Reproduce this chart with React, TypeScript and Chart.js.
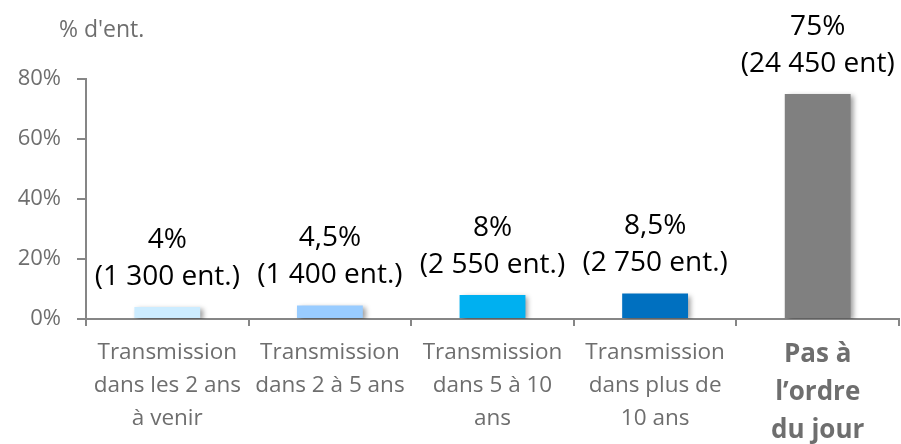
import React, { useEffect, useRef } from "react";
import { Chart, registerables } from "chart.js";

Chart.register(...registerables);

const categories: string[][] = [
  ["Transmission", "dans les 2 ans", "à venir"],
  ["Transmission", "dans 2 à 5 ans"],
  ["Transmission", "dans 5 à 10", "ans"],
  ["Transmission", "dans plus de", "10 ans"],
  ["Pas à", "l’ordre", "du jour"],
];
const values: number[] = [4, 4.5, 8, 8.5, 75];
const pctLabels: string[] = ["4%", "4,5%", "8%", "8,5%", "75%"];
const countLabels: string[] = ["(1 300 ent.)", "(1 400 ent.)", "(2 550 ent.)", "(2 750 ent.)", "(24 450 ent)"];
const barColors: string[] = ["#CCECFF", "#99CCFF", "#00B0F0", "#0070C0", "#808080"];
const yTicks: number[] = [0, 20, 40, 60, 80];
const yTitle = "% d'ent.";

const FONT = "'Open Sans', sans-serif";
const GRAY = "#6e6e6e";
const AXIS = "#868686";

const shadowPlugin = {
  id: "barShadow",
  beforeDatasetsDraw(chart: any) {
    const ctx = chart.ctx;
    ctx.save();
    ctx.shadowColor = "rgba(0,0,0,0.38)";
    ctx.shadowBlur = 5;
    ctx.shadowOffsetX = 3;
    ctx.shadowOffsetY = 2;
  },
  afterDatasetsDraw(chart: any) {
    chart.ctx.restore();
  },
};

const labelPlugin = {
  id: "barLabels",
  afterDraw(chart: any) {
    const ctx = chart.ctx;
    const meta = chart.getDatasetMeta(0);
    ctx.save();
    ctx.fillStyle = "#000000";
    ctx.font = `28px ${FONT}`;
    ctx.textAlign = "center";
    ctx.textBaseline = "middle";
    meta.data.forEach((bar: any, i: number) => {
      ctx.fillText(countLabels[i], bar.x, bar.y - 30);
      ctx.fillText(pctLabels[i], bar.x, bar.y - 67);
    });
    // axis title
    ctx.fillStyle = GRAY;
    ctx.font = `23px ${FONT}`;
    ctx.textAlign = "left";
    ctx.fillText(yTitle, 59, 30);
    ctx.restore();
  },
};

export default function App() {
  const ref = useRef<HTMLCanvasElement>(null);
  useEffect(() => {
    if (!ref.current) return;
    const chart = new Chart(ref.current, {
      type: "bar",
      data: {
        labels: categories,
        datasets: [
          {
            data: values,
            backgroundColor: barColors,
            borderWidth: 0,
            categoryPercentage: 1,
            barPercentage: 0.405,
          },
        ],
      },
      options: {
        responsive: false,
        animation: false,
        devicePixelRatio: 1,
        layout: { padding: { top: 79, right: 2, left: 0, bottom: 0 } },
        plugins: { legend: { display: false }, tooltip: { enabled: false } },
        scales: {
          x: {
            grid: { drawOnChartArea: false, drawTicks: true, tickLength: 7, color: AXIS, lineWidth: 2 },
            border: { color: AXIS, width: 2 },
            ticks: {
              color: GRAY,
              padding: 10,
              maxRotation: 0,
              autoSkip: false,
              font: (c: any) =>
                c.index === 4
                  ? { family: FONT, size: 26, weight: "bold", lineHeight: 1.45 }
                  : { family: FONT, size: 22.5, lineHeight: 1.47 },
            },
            afterFit: (s: any) => {
              s.height = 125;
            },
          },
          y: {
            min: 0,
            max: 80,
            afterBuildTicks: (s: any) => {
              s.ticks = yTicks.map((v) => ({ value: v }));
            },
            grid: { drawOnChartArea: false, drawTicks: true, tickLength: 9, color: AXIS, lineWidth: 2 },
            border: { color: AXIS, width: 2 },
            ticks: {
              color: GRAY,
              padding: 16,
              font: { family: FONT, size: 22 },
              callback: (v: any) => v + "%",
            },
            afterFit: (s: any) => {
              s.width = 86;
            },
          },
        },
      },
      plugins: [shadowPlugin, labelPlugin],
    });
    return () => chart.destroy();
  }, []);
  return (
    <div style={{ position: "fixed", left: 0, top: 0, width: 901, height: 444, background: "#fff" }}>
      <canvas ref={ref} width={901} height={444} />
    </div>
  );
}
